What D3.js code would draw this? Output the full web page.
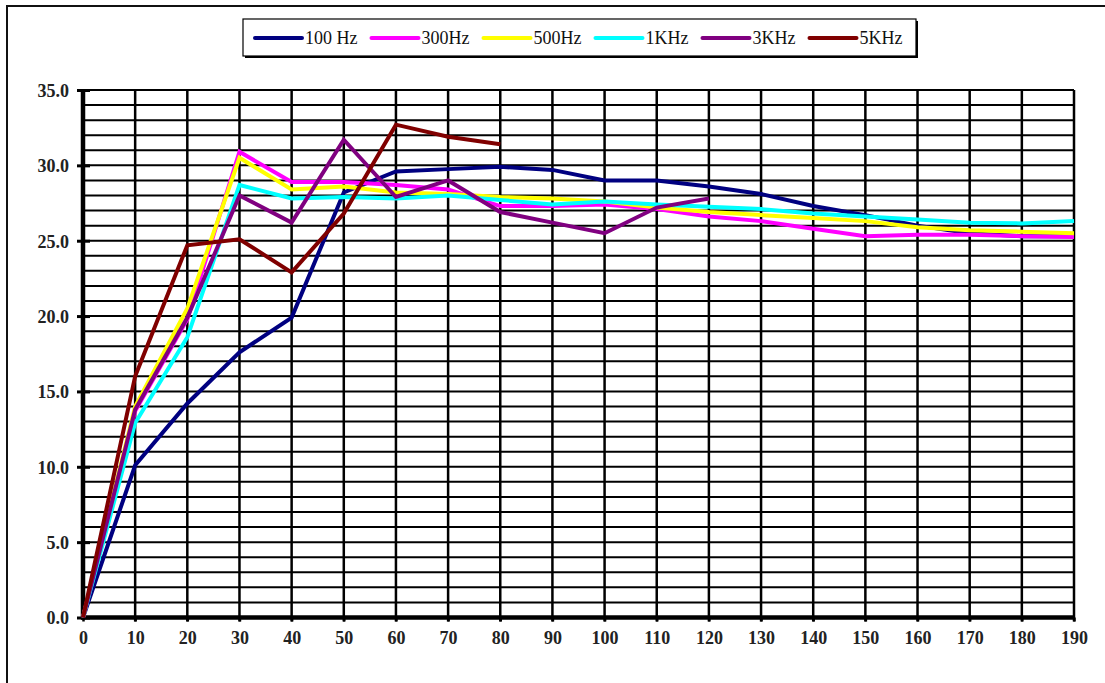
<!DOCTYPE html>
<html><head><meta charset="utf-8">
<script src="https://cdn.jsdelivr.net/npm/d3@7"></script>
<style>body{margin:0;background:#fff}svg{display:block}</style>
</head><body><svg id="c" width="1105" height="683"></svg>
<script>
const xValues = [0,10,20,30,40,50,60,70,80,90,100,110,120,130,140,150,160,170,180,190];
const xTickLabels = ["0","10","20","30","40","50","60","70","80","90","100","110","120","130","140","150","160","170","180","190"];
const yTickValues = [0,5,10,15,20,25,30,35];
const yTickLabels = ["0.0","5.0","10.0","15.0","20.0","25.0","30.0","35.0"];
const seriesNames = ["100 Hz","300Hz","500Hz","1KHz","3KHz","5KHz"];
const seriesColors = ["#000080","#FF00FF","#FFFF00","#00FFFF","#800080","#800000"];
const hz100 = [0,10.1,14.2,17.6,19.9,28.2,29.6,29.75,29.9,29.7,29.0,29.0,28.6,28.1,27.3,26.7,26.0,25.5,25.3,25.3];
const hz300 = [0,13.7,19.8,30.9,28.9,28.9,28.7,28.4,27.3,27.3,27.4,27.1,26.6,26.3,25.8,25.3,25.4,25.4,25.3,25.25];
const hz500 = [0,14.0,20.5,30.5,28.4,28.6,28.2,28.1,27.9,27.8,27.6,27.2,26.9,26.7,26.5,26.3,25.9,25.7,25.6,25.5];
const khz1 = [0,12.9,18.6,28.7,27.8,27.9,27.8,28.0,27.7,27.4,27.6,27.4,27.25,27.1,26.8,26.6,26.4,26.2,26.15,26.3];
const khz3 = [0,13.8,19.9,28.0,26.2,31.7,27.9,29.0,26.9,26.2,25.5,27.2,27.8];
const khz5 = [0,16.0,24.7,25.1,22.9,26.8,32.7,31.9,31.4];
const seriesValues = [hz100,hz300,hz500,khz1,khz3,khz5];

const svg = d3.select("#c");
const x = d3.scaleLinear().domain([0,190]).range([83,1074]);
const y = d3.scaleLinear().domain([0,35]).range([617.5,90]);

// outer frame (clipped at right/bottom)
svg.append("path").attr("d","M7,683 L7,6 L1105,6").attr("fill","none").attr("stroke","#111").attr("stroke-width",2);

// horizontal grid every 1
const hGrid = d3.range(1,36);
svg.append("g").selectAll("line").data(hGrid).join("line")
  .attr("x1",x(0)).attr("x2",x(190)).attr("y1",d=>y(d)).attr("y2",d=>y(d))
  .attr("stroke","#000").attr("stroke-width",2);
// vertical grid
svg.append("g").selectAll("line").data(xValues.slice(1)).join("line")
  .attr("x1",d=>x(d)).attr("x2",d=>x(d)).attr("y1",y(35)).attr("y2",y(0)+4)
  .attr("stroke","#000").attr("stroke-width",2.5);

// axes
const font = "'Liberation Serif','Times New Roman',serif";
const yAxis = svg.append("g").attr("transform",`translate(${x(0)},0)`)
  .call(d3.axisLeft(y).tickValues(yTickValues).tickFormat((d,i)=>yTickLabels[i]).tickSize(6).tickPadding(8));
yAxis.select(".domain").remove();
yAxis.selectAll(".tick line").attr("x1",-6).attr("x2",7).attr("stroke","#000").attr("stroke-width",3);
yAxis.selectAll(".tick text").attr("font-family",font).attr("font-size",18).attr("font-weight","bold").attr("fill","#222").attr("dy","0.35em");
svg.append("line").attr("x1",x(0)).attr("x2",x(0)).attr("y1",y(35)).attr("y2",y(0)+2).attr("stroke","#000").attr("stroke-width",4.5);

const xAxis = svg.append("g").attr("transform",`translate(0,${y(0)})`)
  .call(d3.axisBottom(x).tickValues(xValues).tickFormat((d,i)=>xTickLabels[i]).tickSize(4).tickPadding(10));
xAxis.select(".domain").remove();
xAxis.selectAll(".tick line").attr("stroke","#000").attr("stroke-width",2.5);
xAxis.selectAll(".tick text").attr("font-family",font).attr("font-size",18).attr("font-weight","bold").attr("fill","#222");
svg.append("line").attr("x1",x(0)-2).attr("x2",x(190)+1).attr("y1",y(0)).attr("y2",y(0)).attr("stroke","#000").attr("stroke-width",4.5);

// series
const line = d3.line().x((d,i)=>x(xValues[i])).y(d=>y(d));
seriesValues.forEach((vals,k)=>{
  svg.append("path").datum(vals).attr("d",line).attr("fill","none")
    .attr("stroke",seriesColors[k]).attr("stroke-width",4).attr("stroke-linejoin","miter");
});

// legend
const lg = svg.append("g");
lg.append("rect").attr("x",245).attr("y",21).attr("width",673).attr("height",37).attr("fill","#000");
lg.append("rect").attr("x",243).attr("y",19).attr("width",673).attr("height",37).attr("fill","#fff").attr("stroke","#000").attr("stroke-width",1.2);
let lx = 255;
seriesNames.forEach((n,k)=>{
  lg.append("line").attr("x1",lx).attr("x2",lx+47).attr("y1",38).attr("y2",38)
    .attr("stroke",seriesColors[k]).attr("stroke-width",4).attr("stroke-linecap","round");
  const t = lg.append("text").attr("x",lx+50).attr("y",38).attr("dy","0.35em")
    .attr("font-family",font).attr("font-size",18).attr("fill","#111").text(n);
  lx += 50 + t.node().getComputedTextLength() + 14;
});
</script></body></html>
